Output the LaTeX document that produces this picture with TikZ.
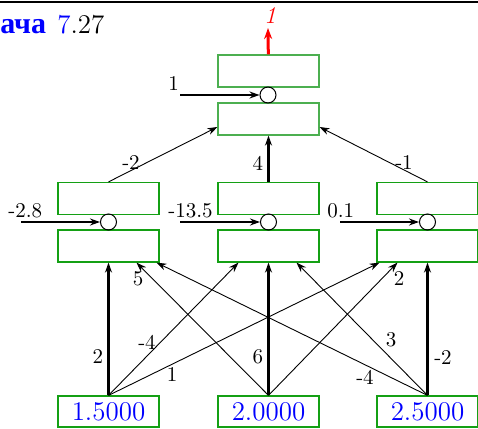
\documentclass[tikz,border=0pt]{standalone}
\usepackage{fontspec}
\newfontfamily\cyrfont{Liberation Serif}
\usetikzlibrary{arrows.meta}

\definecolor{boxgreen}{RGB}{20,160,20}
\definecolor{outgreen}{RGB}{76,175,80}

\tikzset{
	neuron/.style={draw=boxgreen, line width=0.6pt, minimum width=50.5pt, minimum height=16pt, inner sep=0pt},
	summ/.style={draw, circle, line width=0.5pt, minimum size=8pt, inner sep=0pt},
	wlab/.style={inner sep=0pt, font=\fontsize{10.5}{12}\selectfont},
	thinarrow/.style={-{Stealth[length=5pt,width=3.5pt]}, line width=0.45pt},
	thickarrow/.style={-{Stealth[length=5pt,width=3.5pt]}, line width=1.1pt},
	redarrow/.style={-{Stealth[length=5.5pt,width=4pt]}, line width=1.5pt, red}
}

\begin{document}
\begin{tikzpicture}[x=0.5pt,y=-0.5pt]
				\useasboundingbox (0,0) rectangle (478,429);
				\draw[line width=1pt] (0,2) -- (478,2);
				\node[anchor=base west, inner sep=0pt, text=blue, font=\cyrfont\bfseries\fontsize{15}{17}\selectfont] (ttl) at (0,33) {ача};
				\node[anchor=base west, inner sep=0pt, font=\fontsize{13.5}{16}\selectfont] (num) at (57,33) {\textcolor{blue}{7}.27};
				\node[neuron, draw=outgreen] (ou) at (268.5,71) {};
				\node[neuron, draw=outgreen] (ol) at (268.5,119) {};
				\node[summ] (c0) at (268,95) {};
				\coordinate (top) at (268,28);
				\node[text=red, font=\large\itshape] (res) at (270,16) {1};
				\draw[redarrow] (ou) -- (top);
				\foreach \i/\x in {1/108.5,2/268.5,3/427.5} {
					\node[neuron] (hu\i) at (\x,198.5) {};
					\node[neuron] (hl\i) at (\x,246) {};
					\node[summ] (c\i) at (\x,222) {};
				}
				\foreach \i/\x/\v in {1/108.5/1.5000,2/268.5/2.0000,3/427.5/2.5000}
					\node[neuron, minimum height=15.5pt, text=blue, font=\fontsize{13.5}{16}\selectfont] (in\i) at (\x,411.5) {\v};
				\coordinate (b0) at (180,95);
				\coordinate (b1) at (21,222);
				\coordinate (b2) at (180,222);
				\coordinate (b3) at (340,222);
				\draw[thickarrow] (b0) -- (c0);
				\draw[thickarrow] (b1) -- (c1);
				\draw[thickarrow] (b2) -- (c2);
				\draw[thickarrow] (b3) -- (c3);
				\node[wlab, anchor=base west] (l0) at (168,90) {1};
				\node[wlab, anchor=base west] (l1) at (8,217) {-2.8};
				\node[wlab, anchor=base west] (l2) at (168,217) {-13.5};
				\node[wlab, anchor=base west] (l3) at (327,217) {0.1};
				\draw[thinarrow] (hu1.north) -- ([yshift=-4pt]ol.west);
				\draw[thickarrow] (hu2.north) -- (ol.south);
				\draw[thinarrow] (hu3.north) -- ([yshift=-4pt]ol.east);
				\node[wlab] (w1) at (131,163) {-2};
				\node[wlab] (w2) at (258,163) {4};
				\node[wlab] (w3) at (404,163) {-1};
				\draw[thickarrow] (in1.north) -- (hl1.south);
				\draw[thinarrow] (in1.north) -- ([xshift=-15pt]hl2.south);
				\draw[thinarrow] (in1.north) -- ([xshift=-24pt]hl3.south);
				\draw[thinarrow] (in2.north) -- ([xshift=14pt]hl1.south);
				\draw[thickarrow] (in2.north) -- (hl2.south);
				\draw[thinarrow] (in2.north) -- ([xshift=-15pt]hl3.south);
				\draw[thinarrow] (in3.north) -- ([xshift=24pt]hl1.south);
				\draw[thinarrow] (in3.north) -- ([xshift=14pt]hl2.south);
				\draw[thickarrow] (in3.north) -- (hl3.south);
				\node[wlab] (v11) at (98,357) {2};
				\node[wlab] (v12) at (147,342) {-4};
				\node[wlab] (v13) at (172,375) {1};
				\node[wlab] (v21) at (138,279) {5};
				\node[wlab] (v22) at (258,357) {6};
				\node[wlab] (v23) at (399,279) {2};
				\node[wlab] (v31) at (365,377) {-4};
				\node[wlab] (v32) at (391,340) {3};
				\node[wlab] (v33) at (443,358) {-2};
		\end{tikzpicture}
\end{document}
